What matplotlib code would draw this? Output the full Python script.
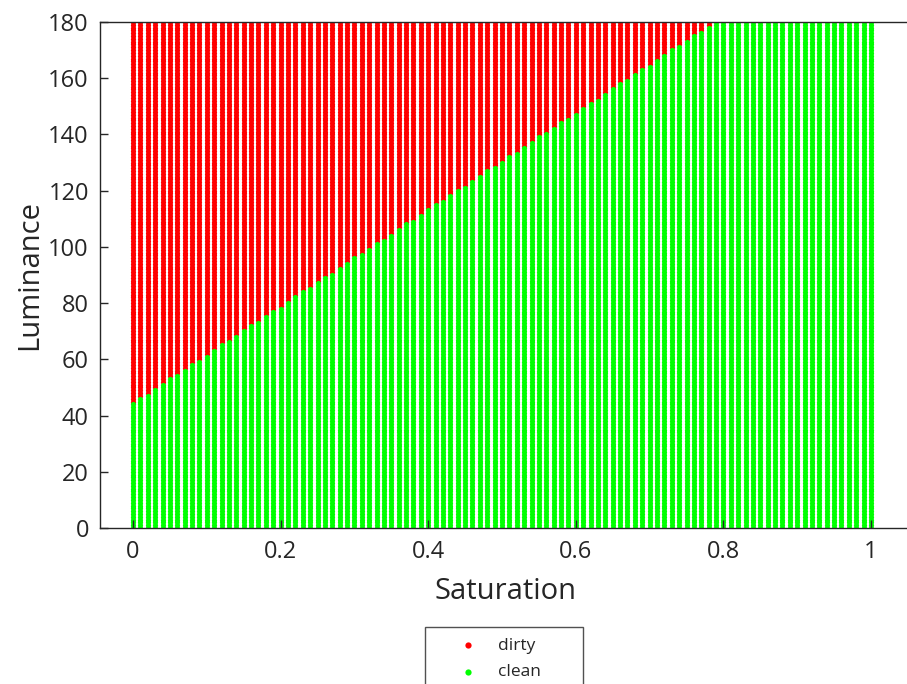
import numpy as np
import matplotlib
matplotlib.use("Agg")
import matplotlib.pyplot as plt

# Saturation columns (0 .. 1 step 0.01) and luminance rows (0 .. 180)
saturation = [round(i * 0.01, 2) for i in range(101)]
luminance = list(range(0, 181))

# Highest luminance still classified "clean" for each saturation column
clean_limit = [
    44, 46, 47, 49, 51, 53, 54, 56, 58, 59,
    61, 63, 65, 66, 68, 70, 72, 73, 75, 77,
    78, 80, 82, 84, 85, 87, 89, 90, 92, 94,
    96, 97, 99, 101, 102, 104, 106, 108, 109, 111,
    113, 115, 116, 118, 120, 121, 123, 125, 127, 128,
    130, 132, 133, 135, 137, 139, 140, 142, 144, 145,
    147, 149, 151, 152, 154, 156, 158, 159, 161, 163,
    164, 166, 168, 170, 171, 173, 175, 176, 178, 180,
    181, 181, 181, 181, 181, 181, 181, 181, 181, 181,
    181, 181, 181, 181, 181, 181, 181, 181, 181, 181,
    181,
]

classes = ["dirty", "clean"]
class_colors = ["#ff0000", "#00ff00"]
x_ticks = [0, 0.2, 0.4, 0.6, 0.8, 1]
y_ticks = list(range(0, 181, 20))

plt.rcParams['font.family'] = ['Open Sans', 'DejaVu Sans']
txt = "#262626"

fig = plt.figure(figsize=(9.07, 6.84), dpi=100)
ax = fig.add_axes([100 / 907, 1 - 528 / 684, 812 / 907, 506 / 684])

S, L = np.meshgrid(np.array(saturation), np.array(luminance), indexing="ij")
lim = np.array(clean_limit)[:, None] * np.ones_like(L)
is_clean = L <= lim

ax.scatter(S[~is_clean], L[~is_clean], s=14, c=class_colors[0], marker='o',
           linewidths=0, label=classes[0])
ax.scatter(S[is_clean], L[is_clean], s=14, c=class_colors[1], marker='o',
           linewidths=0, label=classes[1])

ax.set_xlim((100 - 133) / 738, (912 - 133) / 738)
ax.set_ylim(0, 180)
ax.set_xticks(x_ticks)
ax.set_xticklabels([f"{t:g}" for t in x_ticks])
ax.set_yticks(y_ticks)
ax.tick_params(direction='in', length=6, width=1, colors=txt, labelsize=17,
               labelcolor=txt, top=False, right=False)
ax.tick_params(axis='y', pad=8)
ax.tick_params(axis='x', pad=9)
for sp in ax.spines.values():
    sp.set_color(txt)
    sp.set_linewidth(1)

ax.set_xlabel("Saturation", fontsize=21, color=txt, labelpad=9)
ax.set_ylabel("Luminance", fontsize=21, color=txt, labelpad=3)

leg = ax.legend(loc='upper left', bbox_to_anchor=(425 / 907, 1 - 627 / 684, 158 / 907, 0),
                bbox_transform=fig.transFigure, mode='expand', borderaxespad=0,
                fontsize=12.5, frameon=True, fancybox=False, markerscale=1.2,
                handlelength=3.8, handletextpad=-0.2, borderpad=0.6,
                labelspacing=0.6)
leg.get_frame().set_edgecolor(txt)
leg.get_frame().set_linewidth(1)
for t in leg.get_texts():
    t.set_color(txt)

fig.savefig("out.png", dpi=100)
